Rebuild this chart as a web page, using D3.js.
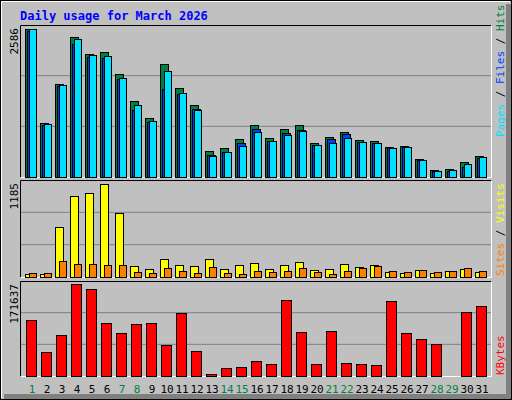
<!DOCTYPE html>
<html><head><meta charset="utf-8">
<script src="https://cdn.jsdelivr.net/npm/d3@7"></script>
<style>body{margin:0;background:#fff}svg{display:block}text{font-family:"DejaVu Sans Mono",monospace}</style>
</head><body><svg id="c" width="512" height="400"></svg>
<script>
const days = d3.range(1, 32);
const weekend = [1,7,8,14,15,21,22,28,29];
const hits  = [2586,940,1623,2446,2148,2183,1797,1325,1027,1973,1553,1255,450,502,660,905,677,835,905,590,695,782,642,624,520,537,310,117,135,257,362];
const files = [2560,916,1600,2329,2095,2078,1715,1173,963,1535,1460,1185,380,432,590,835,624,765,817,555,660,747,607,590,502,520,292,100,100,170,327];
const pages = [2586,922,1605,2411,2130,2113,1727,1255,975,1856,1465,1168,362,432,537,782,624,735,800,555,590,677,607,590,502,520,292,100,117,222,345];
const visits = [43,43,633,1030,1069,1185,812,145,107,235,158,145,235,107,158,184,107,158,197,94,107,171,133,158,68,56,94,56,81,107,68];
const sites  = [56,56,209,171,171,158,158,68,56,120,81,56,133,56,43,81,68,81,120,68,43,81,120,145,81,68,94,68,81,120,81];
const kbytes = [103600,45560,77390,171637,161640,97980,81130,96110,97980,58670,116710,47430,4370,15600,17475,28710,23090,141050,83010,23090,84880,24960,23090,21220,139170,81130,69900,60540,300,118580,129810];
const maxTop = 2586, maxMid = 1185, maxBot = 171637;

const svg = d3.select("#c");
svg.append("rect").attr("width",512).attr("height",400).attr("fill","#c0c0c0");
svg.append("rect").attr("x",506).attr("y",4).attr("width",5).attr("height",395).attr("fill","#808080");
svg.append("rect").attr("x",4).attr("y",394).attr("width",507).attr("height",5).attr("fill","#808080");
svg.append("rect").attr("x",0.5).attr("y",0.5).attr("width",511).attr("height",399).attr("fill","none").attr("stroke","#000");
svg.append("path").attr("d","M1.5,398V1.5H510").attr("stroke","#fff").attr("fill","none");

svg.append("text").attr("x",20).attr("y",20).attr("fill","#0000ff").attr("font-weight","bold").attr("font-size",12).text("Daily usage for March 2026");

const x = d3.scaleBand().domain(days).range([25,490]).paddingInner(0).paddingOuter(0);
// each band is 15px; day d starts at 25+15*(d-1)

function panel(y0, y1, top, max) {
  svg.append("line").attr("x1",21).attr("x2",491).attr("y1",y0+(y1-y0)/3).attr("y2",y0+(y1-y0)/3).attr("stroke","#808080");
  svg.append("line").attr("x1",21).attr("x2",491).attr("y1",y0+2*(y1-y0)/3).attr("y2",y0+2*(y1-y0)/3).attr("stroke","#808080");
  svg.append("path").attr("d",`M20.5,${y1+0.5}V${y0+0.5}H491.5`).attr("stroke","#000").attr("fill","none");
  svg.append("path").attr("d",`M491.5,${y0+0.5}V${y1+0.5}H20.5`).attr("stroke","#fff").attr("fill","none");
  svg.append("text").attr("transform",`translate(18,${y0+3}) rotate(-90)`).attr("text-anchor","end").attr("font-size",11).attr("fill","#000").text(max);
  return d3.scaleLinear().domain([0,max]).range([y1, top]);
}
function bars(data, y, dx, w, color) {
  svg.append("g").selectAll("rect").data(data).join("rect")
    .attr("x",(v,i)=>x(days[i])+dx+0.5).attr("width",w)
    .attr("y",v=>Math.round(y(v))+0.5).attr("height",v=>Math.max(0,y(0)-Math.round(y(v))))
    .attr("fill",color).attr("stroke","#000");
}
const yTop = panel(25,177,29.3,maxTop);
bars(hits, yTop, 0, 8, "#008040");
bars(files, yTop, 2, 8, "#0040ff");
bars(pages, yTop, 4, 7, "#00e0ff");
const yMid = panel(180,277,184.3,maxMid);
bars(visits, yMid, 0, 8, "#ffff00");
bars(sites, yMid, 4, 7, "#ff8000");
const yBot = panel(281,376,284,maxBot);
bars(kbytes, yBot, 1, 10, "#ff0000");

svg.append("g").selectAll("text").data(days).join("text")
  .attr("x",d=>x(d)+7).attr("y",393).attr("text-anchor","middle").attr("font-size",11)
  .attr("fill",d=>weekend.includes(d)?"#008040":"#000").text(d=>d);

function sideLabel(yStart, parts) {
  const t = svg.append("text").attr("transform",`translate(504,${yStart}) rotate(-90)`).attr("font-size",11);
  parts.forEach(([s,c])=>t.append("tspan").attr("fill",c).text(s));
}
sideLabel(137, [["Pages","#00e0ff"],[" / ","#000"],["Files","#0040ff"],[" / ","#000"],["Hits","#008040"]]);
sideLabel(276, [["Sites","#ff8000"],[" / ","#000"],["Visits","#ffff00"]]);
sideLabel(375, [["KBytes","#ff0000"]]);
</script></body></html>
